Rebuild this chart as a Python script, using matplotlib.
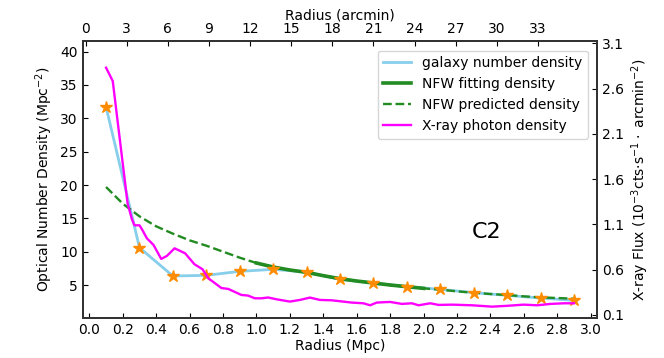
import numpy as np
import matplotlib
matplotlib.use("Agg")
import matplotlib.pyplot as plt

# galaxy number density (Mpc^-2) at the binned radii
gal_r = [0.1, 0.3, 0.5, 0.7, 0.9, 1.1, 1.3, 1.5, 1.7, 1.9, 2.1, 2.3, 2.5, 2.7, 2.9]
gal_n = [31.7, 10.6, 6.35, 6.45, 7.05, 7.35, 6.95, 5.85, 5.3, 4.75, 4.35, 3.85, 3.45, 3.05, 2.7]

# NFW model curve
nfw_r = [0.1, 0.2, 0.3, 0.4, 0.5, 0.6, 0.7, 0.8, 0.9, 1.0, 1.1, 1.2, 1.3, 1.4, 1.5,
         1.6, 1.7, 1.8, 1.9, 2.0, 2.1, 2.2, 2.3, 2.4, 2.5, 2.6, 2.7, 2.8, 2.9]
nfw_n = [19.7, 17.2, 15.3, 13.8, 12.7, 11.7, 10.9, 10.0, 9.1, 8.3, 7.7, 7.25, 6.9, 6.4, 5.95,
         5.6, 5.3, 5.0, 4.75, 4.5, 4.3, 4.05, 3.85, 3.65, 3.5, 3.3, 3.15, 3.05, 2.95]
fit_r = nfw_r[9:20]
fit_n = nfw_n[9:20]

# X-ray photon flux profile (10^-3 cts s^-1 arcmin^-2)
xr_r = [0.10, 0.14, 0.229, 0.255, 0.27, 0.30, 0.315, 0.344, 0.384, 0.43, 0.464, 0.51,
        0.573, 0.629, 0.677, 0.712, 0.79, 0.832, 0.91, 0.95, 0.99, 1.03, 1.07, 1.12,
        1.20, 1.26, 1.32, 1.38, 1.45, 1.57, 1.64, 1.68, 1.72, 1.80, 1.87, 1.93, 1.97,
        2.04, 2.09, 2.17, 2.29, 2.41, 2.49, 2.60, 2.68, 2.76, 2.84, 2.90]
xr_f = [2.830, 2.683, 1.329, 1.156, 1.090, 1.090, 1.046, 0.947, 0.873, 0.719, 0.752, 0.836,
        0.781, 0.660, 0.605, 0.505, 0.398, 0.387, 0.321, 0.314, 0.284, 0.284, 0.293, 0.273,
        0.248, 0.266, 0.292, 0.266, 0.262, 0.237, 0.229, 0.207, 0.237, 0.244, 0.222, 0.229, 0.207,
        0.229, 0.211, 0.214, 0.207, 0.192, 0.200, 0.214, 0.207, 0.222, 0.229, 0.229]

arcmin_ticks = list(range(0, 34, 3))
flux_ticks = [0.1, 0.6, 1.1, 1.6, 2.1, 2.6, 3.1]
left_ticks = [5, 10, 15, 20, 25, 30, 35, 40]

plt.rcParams["xtick.direction"] = "in"
plt.rcParams["ytick.direction"] = "in"
plt.rcParams["font.size"] = 10

fig, ax = plt.subplots(figsize=(6.64, 3.58), dpi=100)
fig.subplots_adjust(left=0.1245, right=0.8996, top=0.8855, bottom=0.1126)

l1, = ax.plot(gal_r, gal_n, color="skyblue", lw=2, label="galaxy number density")
l3, = ax.plot(nfw_r, nfw_n, color="forestgreen", lw=1.7, ls="--", label="NFW predicted density")
l2, = ax.plot(fit_r, fit_n, color="forestgreen", lw=2.6, label="NFW fitting density")
ax.plot(gal_r, gal_n, ls="none", marker="*", ms=9, color="darkorange", mec="darkorange")
ax.text(2.38, 13.0, "C2", fontsize=16, ha="center", va="center")

ax.set_xlim(-0.04, 3.04)
ax.set_ylim(0.1, 41.6)
ax.set_xticks(np.arange(0, 3.01, 0.2))
ax.set_yticks(left_ticks)
ax.set_xlabel("Radius (Mpc)", labelpad=2)
ax.set_ylabel("Optical Number Density (Mpc$^{-2}$)")

ax2 = ax.twinx()
l4, = ax2.plot(xr_r, xr_f, color="magenta", lw=1.7, label="X-ray photon density")
ax2.set_ylim(0.07, 3.125)
ax2.set_yticks(flux_ticks)
ax2.set_ylabel(r"X-ray Flux ($10^{-3}$cts$\cdot$s$^{-1}\cdot$ arcmin$^{-2}$)")

ax3 = ax.twiny()
ax3.set_xlim(-0.22, 37.34)
ax3.set_xticks(arcmin_ticks)
ax3.set_xlabel("Radius (arcmin)", labelpad=2)

for a in (ax, ax2, ax3):
    for s in a.spines.values():
        s.set_linewidth(1.3)
        s.set_color("#333333")

ax2.legend(handles=[l1, l2, l3, l4], loc="upper right", fontsize=10,
           bbox_to_anchor=(0.995, 0.99))

fig.savefig("out.png", dpi=100)
